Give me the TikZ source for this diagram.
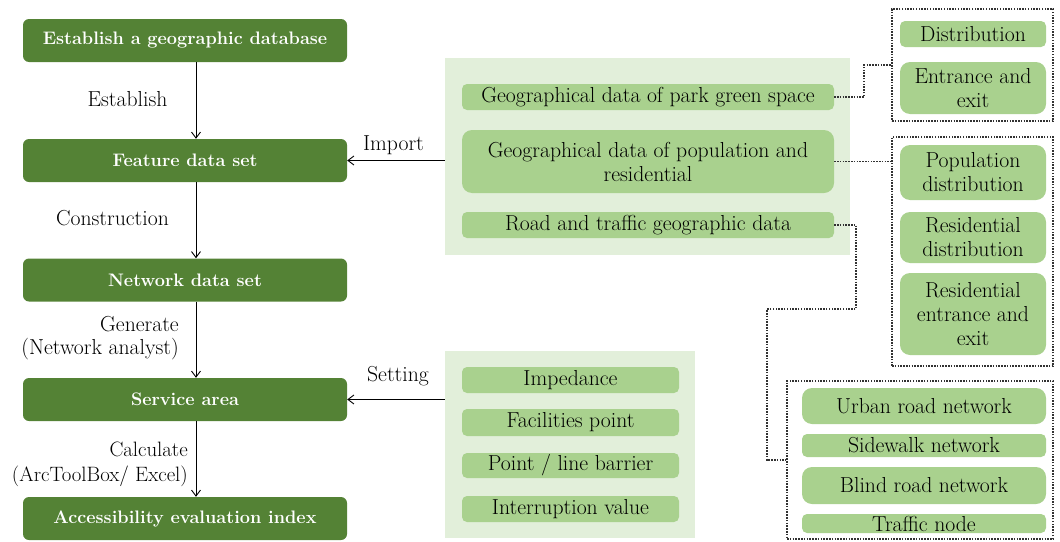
\documentclass[tikz,border=0pt]{standalone}
\usetikzlibrary{arrows.meta}
\definecolor{dkgreen}{RGB}{84,130,53}
\definecolor{mdgreen}{RGB}{169,209,142}
\definecolor{ltgreen}{RGB}{226,239,218}
\definecolor{dotgray}{RGB}{50,50,50}
\begin{document}
\begin{tikzpicture}[x=1pt,y=-1pt,
 mainbox/.style={fill=dkgreen, rounded corners=6pt, minimum width=324pt, minimum height=43pt, inner sep=0pt, text=white, font=\fontsize{18.1}{21}\selectfont\bfseries},
 panel/.style={fill=ltgreen, inner sep=0pt},
 item/.style={fill=mdgreen, rounded corners=5pt, inner sep=0pt, align=center, font=\fontsize{21.7}{24}\selectfont},
 bigitem/.style={item, rounded corners=10pt},
 lbl/.style={font=\fontsize{21.7}{23.5}\selectfont, inner sep=0pt},
 arr/.style={-{Straight Barb[length=6pt,width=9pt]}, line width=0.9pt},
 dframe/.style={draw=dotgray, dash pattern=on 1.5pt off 1.3pt, line width=1.6pt, inner sep=0pt},
 dcon/.style={draw=dotgray, dash pattern=on 1.5pt off 1.3pt, line width=1.6pt}
]
\useasboundingbox (0,0) rectangle (1060,541);

% left column
\node[mainbox] (b1) at (185,40.5) {Establish a geographic database};
\node[mainbox] (b2) at (185,160.5) {Feature data set};
\node[mainbox] (b3) at (185,280) {Network data set};
\node[mainbox] (b4) at (185,399.5) {Service area};
\node[mainbox] (b5) at (185,518.5) {Accessibility evaluation index};

\coordinate (ax) at (196,0);
\draw[arr] (b1.south -| ax) -- (b2.north -| ax);
\draw[arr] (b2.south -| ax) -- (b3.north -| ax);
\draw[arr] (b3.south -| ax) -- (b4.north -| ax);
\draw[arr] (b4.south -| ax) -- (b5.north -| ax);

\node[lbl] (l1) at (127.5,99) {Establish};
\node[lbl] (l2) at (112.5,218) {Construction};
\node[lbl, anchor=east, align=right] (l3) at (179,338) {Generate\\(Network analyst)};
\node[lbl, anchor=east, align=right, font=\fontsize{20.8}{24.5}\selectfont] (l4) at (188,464.5) {Calculate\\(ArcToolBox/ Excel)};
\node[lbl] (l5) at (393.5,145) {Import};
\node[lbl] (l6) at (398,376) {Setting};

% top panel
\node[panel, minimum width=405pt, minimum height=197pt] (p1) at (647.5,156.5) {};
\node[item, minimum width=372pt, minimum height=26pt] (a) at (648,97) {Geographical data of park green space};
\node[bigitem, minimum width=372pt, minimum height=63pt] (b) at (648,161.5) {Geographical data of population and\\residential};
\node[item, minimum width=372pt, minimum height=26pt] (c) at (648,225) {Road and traffic geographic data};

% bottom panel
\node[panel, minimum width=250pt, minimum height=187pt] (p2) at (570,444.5) {};
\node[item, minimum width=217pt, minimum height=26pt] (s1) at (570.5,380) {Impedance};
\node[item, minimum width=217pt, minimum height=27pt] (s2) at (570.5,422.5) {Facilities point};
\node[item, minimum width=217pt, minimum height=25pt] (s3) at (570.5,465.5) {Point / line barrier};
\node[item, minimum width=217pt, minimum height=26pt] (s4) at (570.5,509) {Interruption value};

\draw[arr] (p1.west |- b2.east) -- (b2.east);
\draw[arr] (p2.west |- b4.east) -- (b4.east);

% right frame 1
\node[dframe, minimum width=161pt, minimum height=112pt] (f1) at (972.5,65) {};
\node[item, minimum width=146pt, minimum height=26pt] (r1) at (973,34) {Distribution};
\node[bigitem, minimum width=146pt, minimum height=52pt] (r2) at (973,88) {Entrance and\\exit};

% right frame 2
\node[dframe, minimum width=161pt, minimum height=229pt] (f2) at (972.5,251.5) {};
\node[bigitem, minimum width=146pt, minimum height=55pt] (r3) at (973,172.5) {Population\\distribution};
\node[bigitem, minimum width=146pt, minimum height=51pt] (r4) at (973,237.5) {Residential\\distribution};
\node[bigitem, minimum width=146pt, minimum height=82pt] (r5) at (973,314) {Residential\\entrance and\\exit};

% right frame 3
\node[dframe, minimum width=266pt, minimum height=158pt] (f3) at (920,460) {};
\node[bigitem, minimum width=244pt, minimum height=36pt] (r6) at (924,406) {Urban road network};
\node[item, minimum width=244pt, minimum height=23pt] (r7) at (924,445.5) {Sidewalk network};
\node[bigitem, minimum width=244pt, minimum height=37pt] (r8) at (924,485.5) {Blind road network};
\node[item, minimum width=244pt, minimum height=19pt] (r9) at (924,523.5) {Traffic node};

% dotted connectors
\draw[dcon] (a.east) -- ++(30,0) |- (f1.west);
\draw[dcon] (b.east) -- (b.east -| f2.west);
\coordinate (c1) at (856,309);
\coordinate (c2) at (767,309);
\draw[dcon] (c.east) -| (c1) -- (c2) |- (f3.west);
\end{tikzpicture}
\end{document}
